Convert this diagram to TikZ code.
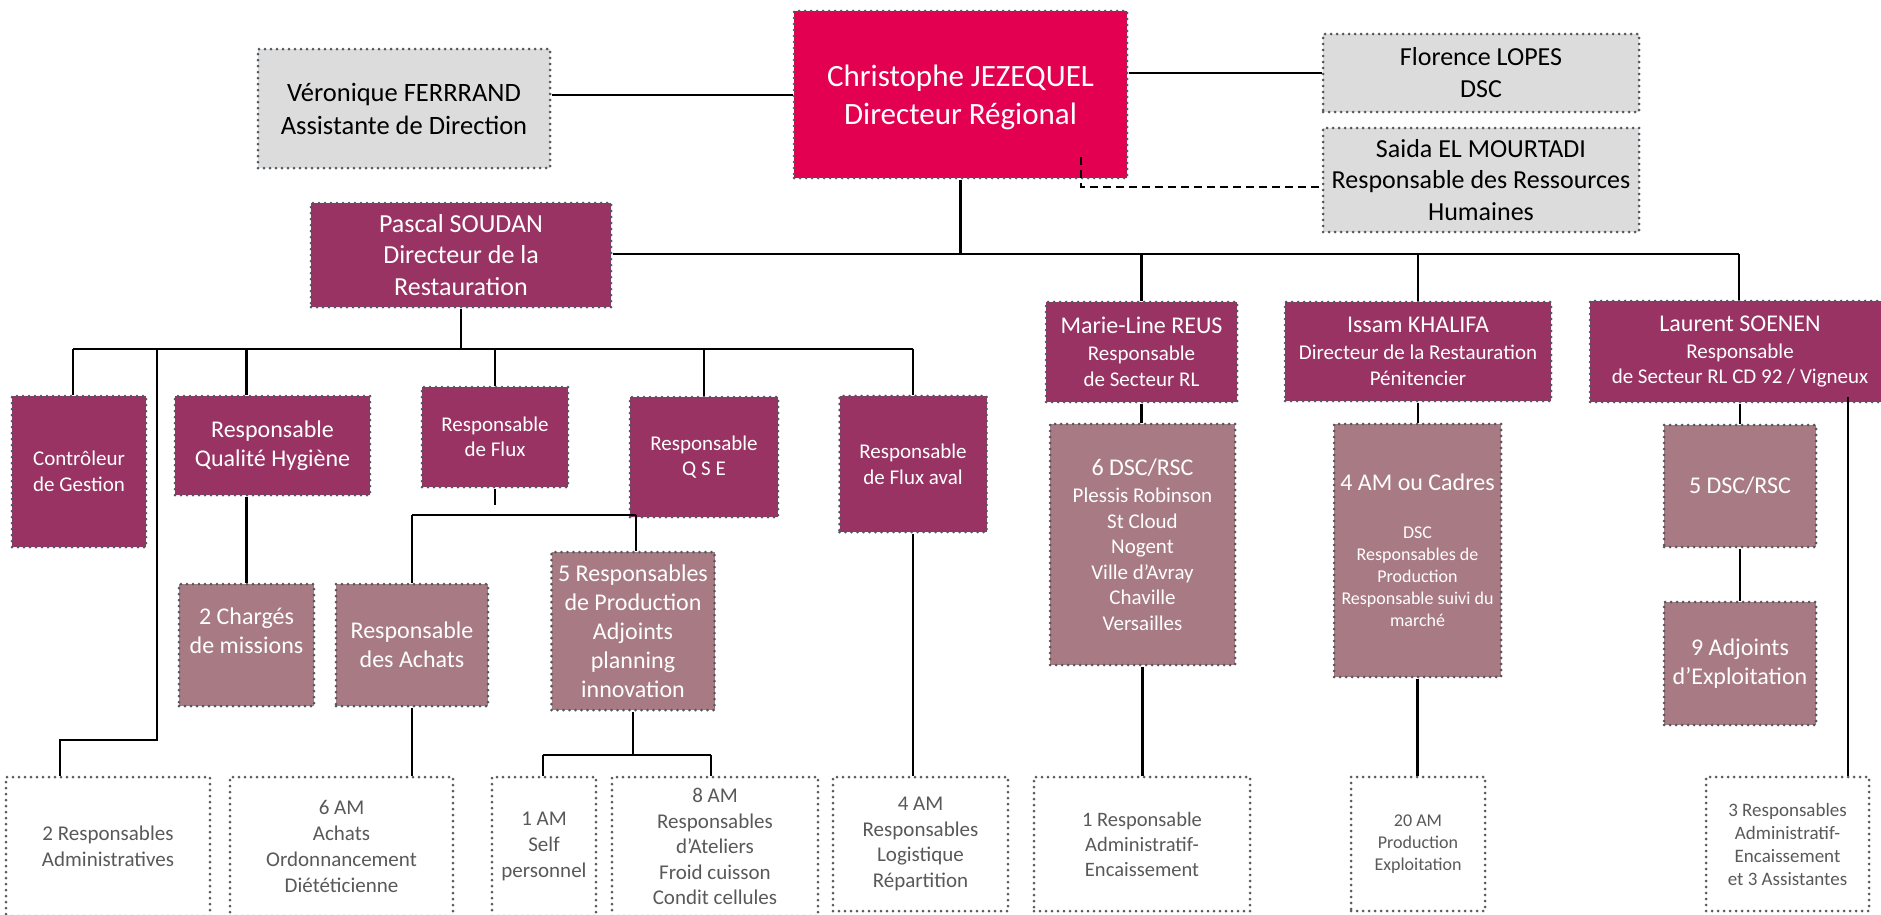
\documentclass[tikz,border=0pt]{standalone}
\usepackage{fontspec}
\setmainfont{Carlito}
\definecolor{crimc}{RGB}{228,0,80}
\definecolor{purpc}{RGB}{153,51,99}
\definecolor{rosec}{RGB}{168,122,131}
\definecolor{lgrayc}{RGB}{220,220,220}
\definecolor{bordc}{RGB}{82,88,94}
\definecolor{bordw}{RGB}{90,90,90}
\definecolor{txtg}{RGB}{89,89,89}
\newcommand\myfs[2]{\fontsize{#1}{#2}\selectfont}
\begin{document}
\begin{tikzpicture}[x=1pt,y=-1pt,
  bx/.style={rectangle, draw=bordc, line width=3pt, dash pattern=on 0pt off 6pt, line cap=round, inner sep=2pt, align=center, text=white},
  crim/.style={bx, fill=crimc},
  purp/.style={bx, fill=purpc},
  rose/.style={bx, fill=rosec},
  grayb/.style={bx, fill=lgrayc, text=black},
  wb/.style={bx, fill=white, draw=bordw, text=txtg},
  conn/.style={line width=2.2pt, black}]
\path[use as bounding box] (0,0) rectangle (1881,914);
\begin{scope}
\clip (0,0) rectangle (1881,914);
% top level
\node[crim, minimum width=333pt, minimum height=167pt, font=\myfs{31}{38.5}, text depth=0pt] (chr) at (960.5,94.5) {Christophe JEZEQUEL\\Directeur Régional};
\node[grayb, minimum width=292pt, minimum height=119pt, font=\myfs{26.5}{33}] (ver) at (404,108.5) {Véronique FERRRAND\\Assistante de Direction};
\node[grayb, minimum width=316pt, minimum height=78pt, font=\myfs{26}{32}] (flo) at (1481,73) {Florence LOPES\\DSC};
\node[grayb, minimum width=316pt, minimum height=104pt, font=\myfs{26}{31.5}] (sai) at (1481,180) {Saida EL MOURTADI\\Responsable des Ressources\\Humaines};
% second level
\node[purp, minimum width=300pt, minimum height=104pt, font=\myfs{26}{31.7}] (pas) at (461,255) {Pascal SOUDAN\\Directeur de la\\Restauration};
\node[purp, minimum width=191pt, minimum height=100pt, font=\myfs{21}{25.5}] (mar) at (1141.5,352) {{\myfs{24}{29}Marie-Line REUS}\\[1.5pt]Responsable\\de Secteur RL};
\node[purp, minimum width=266pt, minimum height=99pt, font=\myfs{21}{25.5}] (iss) at (1418,351.5) {{\myfs{24}{29}Issam KHALIFA}\\[1.5pt]Directeur de la Restauration\\Pénitencier};
\node[purp, minimum width=300pt, minimum height=101pt, font=\myfs{21}{25.5}] (lau) at (1740,351.5) {{\myfs{24}{29}Laurent SOENEN}\\[1.5pt]Responsable\\de Secteur RL CD 92 / Vigneux};
% Pascal's team
\node[purp, minimum width=134pt, minimum height=151pt, font=\myfs{21}{25.7}] (ctl) at (79,471.5) {Contrôleur\\de Gestion};
\node[purp, minimum width=195pt, minimum height=99pt, font=\myfs{24}{28.5}] (qua) at (272.5,445.5) {Responsable\\Qualité Hygiène};
\node[purp, minimum width=146pt, minimum height=100pt, font=\myfs{21}{25}] (flx) at (495,437) {Responsable\\de Flux};
\node[purp, minimum width=148pt, minimum height=120pt, font=\myfs{21}{25}] (qse) at (704,457) {Responsable\\Q S E};
\node[purp, minimum width=147pt, minimum height=136pt, font=\myfs{21}{26}] (fla) at (913,464) {Responsable\\de Flux aval};
% rose boxes
\node[rose, minimum width=135pt, minimum height=122pt, font=\myfs{24}{28.7}] (cha) at (246.5,645) {2 Chargés\\de missions\\\mbox{}};
\node[rose, minimum width=152pt, minimum height=122pt, font=\myfs{24}{29}] (ach) at (412,645) {Responsable\\des Achats};
\node[rose, minimum width=163pt, minimum height=158pt, font=\myfs{24}{29}] (prd) at (633,631) {5 Responsables\\de Production\\Adjoints\\planning\\innovation};
\node[rose, minimum width=185pt, minimum height=241pt, font=\myfs{21}{25.5}] (ds6) at (1142.5,544.5) {{\myfs{24}{29}6 DSC/RSC}\\[1.5pt]Plessis Robinson\\St Cloud\\Nogent\\Ville d’Avray\\Chaville\\Versailles};
\node[rose, minimum width=167pt, minimum height=253pt, font=\myfs{18}{22}] (am4) at (1417.5,550.5) {{\myfs{24}{29}4 AM ou Cadres}\\[26pt]DSC\\Responsables de\\Production\\Responsable suivi du\\marché};
\node[rose, minimum width=152pt, minimum height=122pt, font=\myfs{24}{29}] (ds5) at (1740,486) {5 DSC/RSC};
\node[rose, minimum width=152pt, minimum height=123pt, font=\myfs{24}{28.5}] (adj) at (1740,663.5) {9 Adjoints\\d’Exploitation};
% bottom row
\node[wb, minimum width=204pt, minimum height=139pt, font=\myfs{21}{25.5}] (b1) at (108,846.5) {2 Responsables\\Administratives};
\node[wb, minimum width=223pt, minimum height=139pt, font=\myfs{21}{26}] (b2) at (341.5,846.5) {6 AM\\Achats\\Ordonnancement\\Diététicienne};
\node[wb, minimum width=104pt, minimum height=139pt, font=\myfs{21}{26}] (b3) at (544,846.5) {1 AM\\Self\\personnel};
\node[wb, minimum width=206pt, minimum height=139pt, font=\myfs{21}{25.5}] (b4) at (715,846.5) {8 AM\\Responsables\\d’Ateliers\\Froid cuisson\\Condit cellules};
\node[wb, minimum width=175pt, minimum height=134pt, font=\myfs{21}{25.5}] (b5) at (920.5,844) {4 AM\\Responsables\\Logistique\\Répartition};
\node[wb, minimum width=216pt, minimum height=134pt, font=\myfs{20.5}{25}] (b6) at (1142,844) {1 Responsable\\Administratif-\\Encaissement};
\node[wb, minimum width=134pt, minimum height=134pt, font=\myfs{18}{21.7}] (b7) at (1418,844) {20 AM\\Production\\Exploitation};
\node[wb, minimum width=163pt, minimum height=134pt, font=\myfs{19}{23}] (b8) at (1787.5,844) {3 Responsables\\Administratif-\\Encaissement\\et 3 Assistantes};
% connectors: top
\coordinate (vy) at (0,95);
\draw[conn] (ver.east |- vy) -- (chr.west |- vy);
\draw[conn] (chr.east |- flo.west) -- (flo.west);
\coordinate (d1) at (1081,157);
\coordinate (d2) at (1081,187);
\draw[conn, dash pattern=on 8pt off 5pt] (d1) -- (d2) -- (d2 -| sai.west);
\coordinate (mbr) at (1739,254);
\draw[conn] (chr.south) -- (chr.south |- mbr);
\draw[conn] (pas.east |- mbr) -- (mbr);
\draw[conn] (mar.north |- mbr) -- (mar.north);
\draw[conn] (iss.north |- mbr) -- (iss.north);
\draw[conn] (mbr) -- (mbr |- lau.north);
% Pascal's bar
\coordinate (pbl) at (73,349);
\coordinate (pbr) at (913,349);
\draw[conn] (pas.south) -- (pas.south |- pbl);
\draw[conn] (pbl) -- (pbr);
\draw[conn] (pbl) -- (pbl |- ctl.north);
\draw[conn] (cha.north |- pbl) -- (cha.north |- qua.north);
\draw[conn] (flx.north |- pbl) -- (flx.north);
\draw[conn] (qse.north |- pbl) -- (qse.north);
\draw[conn] (pbr) -- (fla.north);
\coordinate (a1) at (157,349);
\coordinate (a2) at (157,740);
\coordinate (a3) at (60,740);
\draw[conn] (a1) -- (a2) -- (a3) -- (a3 |- b1.north);
\draw[conn] (cha.north |- qua.south) -- (cha.north);
\coordinate (fs) at (495,505);
\draw[conn] (flx.south) -- (fs);
\coordinate (q1) at (412,515);
\coordinate (q2) at (636,515);
\draw[conn] (q1) -- (q2);
\draw[conn] (q1) -- (ach.north);
\draw[conn] (q2) -- (q2 |- prd.north);
\coordinate (p1) at (543,755);
\coordinate (p2) at (711,755);
\draw[conn] (prd.south) -- (prd.south |- p1);
\draw[conn] (p1) -- (p2);
\draw[conn] (p1) -- (p1 |- b3.north);
\draw[conn] (p2) -- (p2 |- b4.north);
\draw[conn] (ach.south) -- (ach.south |- b2.north);
\draw[conn] (fla.south) -- (fla.south |- b5.north);
% right side
\draw[conn] (mar.south) -- (mar.south |- ds6.north);
\draw[conn] (ds6.south) -- (ds6.south |- b6.north);
\draw[conn] (iss.south) -- (iss.south |- am4.north);
\draw[conn] (am4.south) -- (am4.south |- b7.north);
\draw[conn] (lau.south) -- (ds5.north);
\draw[conn] (ds5.south) -- (adj.north);
\coordinate (lr) at (1848,397);
\draw[conn] (lr) -- (lr |- b8.north);
\end{scope}
\end{tikzpicture}
\end{document}
